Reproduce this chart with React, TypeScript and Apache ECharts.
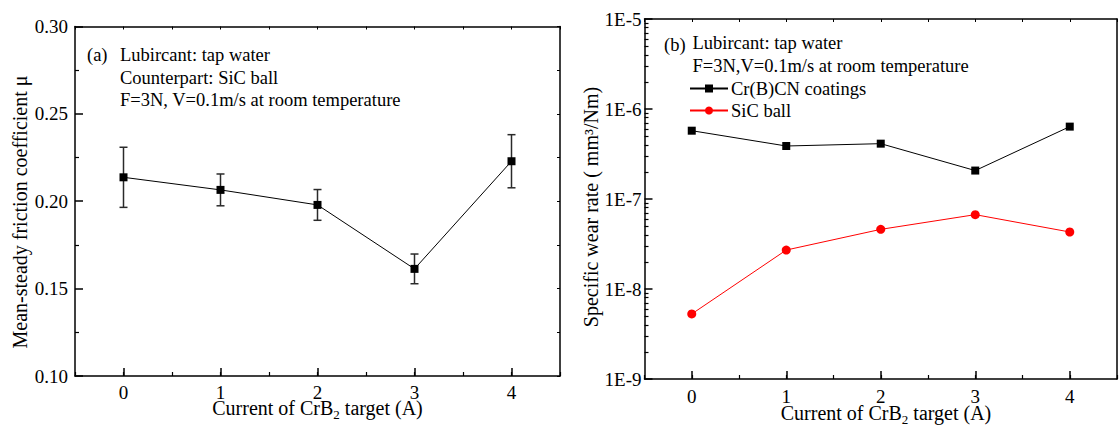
import React, { useEffect, useRef } from "react";
import * as echarts from "echarts";

// ---- data ----
const currents = [0, 1, 2, 3, 4];
const frictionMean = [0.2137, 0.2065, 0.1979, 0.1613, 0.2229];
const frictionErr = [0.0172, 0.0091, 0.0088, 0.0085, 0.0152];
const coatingWear = [5.74e-7, 3.88e-7, 4.12e-7, 2.07e-7, 6.37e-7];
const ballWear = [5.28e-9, 2.71e-8, 4.6e-8, 6.7e-8, 4.3e-8];
const xTickValues = [0, 1, 2, 3, 4];
const seriesNames = ["Cr(B)CN coatings", "SiC ball"];
const annotA = ["Lubircant: tap water", "Counterpart: SiC ball", "F=3N, V=0.1m/s at room temperature"];
const annotB = ["Lubircant: tap water", "F=3N,V=0.1m/s at room temperature"];

const FONT = "Liberation Serif";
const BLACK = "#000";

// minor log tick positions (2..9 per decade) on a log10 helper axis
const logMinor: number[] = [];
for (let d = -9; d < -5; d++) {
  for (let k = 2; k <= 9; k++) logMinor.push(d + Math.log10(k));
}

function baseX(grid: number, extra: any = {}) {
  return {
    gridIndex: grid,
    type: "value",
    min: -0.5,
    max: 4.5,
    interval: 0.5,
    splitLine: { show: false },
    axisLine: { show: false, onZero: false, lineStyle: { color: BLACK, width: 1.5 } },
    axisTick: { show: false },
    axisLabel: { show: false },
    ...extra,
  };
}

export default function App() {
  const ref = useRef<HTMLDivElement>(null);
  useEffect(() => {
    const chart = echarts.init(ref.current!, null, { renderer: "svg" });
    const g0 = { left: 75, top: 26.5, width: 485, height: 349.5 };
    const g1 = { left: 644.5, top: 19, width: 483.5, height: 360 };

    const mainX = (grid: number, margin: number) =>
      baseX(grid, {
        position: "bottom",
        axisLine: { show: true, onZero: false, lineStyle: { color: BLACK, width: 1.5 } },
        axisTick: { show: true, inside: true, length: 8, customValues: xTickValues, lineStyle: { color: BLACK, width: 1.5 } },
        axisLabel: {
          show: true,
          margin,
          fontFamily: FONT,
          fontSize: 19,
          lineHeight: 14,
          color: BLACK,
          formatter: (v: number) => (Number.isInteger(v) ? String(v) : ""),
        },
      });
    const minorX = (grid: number) =>
      baseX(grid, {
        position: "bottom",
        axisTick: { show: true, inside: true, length: 4, lineStyle: { color: BLACK, width: 1.2 } },
      });
    const topX = (grid: number) =>
      baseX(grid, {
        position: "top",
        axisLine: { show: true, onZero: false, lineStyle: { color: BLACK, width: 1.5 } },
        axisTick: { show: true, inside: true, length: 3, lineStyle: { color: BLACK, width: 1 } },
      });

    const textStyle = (size: number) => ({ fontFamily: FONT, fontSize: size, fill: BLACK });
    const xTitle = (x: number, y: number) => ({
      type: "text",
      x,
      y,
      style: {
        text: "Current of CrB{sub|2} target (A)",
        ...textStyle(20),
        lineHeight: 16,
        align: "center",
        verticalAlign: "middle",
        rich: { sub: { fontFamily: FONT, fontSize: 13, lineHeight: 10, verticalAlign: "bottom", padding: [0, 0, -5, 0] } },
      },
    });

    const option: any = {
      animation: false,
      backgroundColor: "#fff",
      textStyle: { fontFamily: FONT },
      grid: [g0, g1],
      xAxis: [mainX(0, 9.5), minorX(0), topX(0), mainX(1, 10.5), minorX(1), topX(1)],
      yAxis: [
        {
          gridIndex: 0,
          type: "value",
          min: 0.1,
          max: 0.3,
          interval: 0.05,
          position: "left",
          splitLine: { show: false },
          axisLine: { show: true, onZero: false, lineStyle: { color: BLACK, width: 1.5 } },
          axisTick: { show: true, inside: true, length: 8, lineStyle: { color: BLACK, width: 1.5 } },
          minorTick: { show: true, splitNumber: 2, length: 4, lineStyle: { color: BLACK, width: 1.2 } },
          axisLabel: {
            margin: 7,
            fontFamily: FONT,
            fontSize: 19,
            color: BLACK,
            formatter: (v: number) => v.toFixed(2),
          },
        },
        {
          gridIndex: 0,
          type: "value",
          min: 0.1,
          max: 0.3,
          interval: 0.025,
          position: "right",
          splitLine: { show: false },
          axisLine: { show: true, onZero: false, lineStyle: { color: BLACK, width: 1.5 } },
          axisTick: { show: true, inside: true, length: 3, lineStyle: { color: BLACK, width: 1 } },
          axisLabel: { show: false },
        },
        {
          gridIndex: 1,
          type: "log",
          logBase: 10,
          min: 1e-9,
          max: 1e-5,
          position: "left",
          splitLine: { show: false },
          axisLine: { show: true, onZero: false, lineStyle: { color: BLACK, width: 1.5 } },
          axisTick: { show: true, inside: true, length: 8, lineStyle: { color: BLACK, width: 1.5 } },
          axisLabel: {
            margin: 3,
            fontFamily: FONT,
            fontSize: 19,
            color: BLACK,
            formatter: (v: number) => "1E" + Math.round(Math.log10(v)),
          },
        },
        {
          gridIndex: 1,
          type: "value",
          min: -9,
          max: -5,
          position: "left",
          splitLine: { show: false },
          axisLine: { show: false, onZero: false },
          axisTick: { show: true, inside: true, length: 4, customValues: logMinor, lineStyle: { color: BLACK, width: 1.2 } },
          axisLabel: { show: false },
        },
        {
          gridIndex: 1,
          type: "log",
          min: 1e-9,
          max: 1e-5,
          position: "right",
          splitLine: { show: false },
          axisLine: { show: true, onZero: false, lineStyle: { color: BLACK, width: 1.5 } },
          axisTick: { show: false },
          axisLabel: { show: false },
        },
      ],
      legend: {
        data: seriesNames,
        orient: "vertical",
        left: 689,
        top: 79,
        itemWidth: 38,
        itemHeight: 10,
        itemGap: 3,
        padding: 0,
        textStyle: { fontFamily: FONT, fontSize: 18.5, color: BLACK, padding: [0, 0, 0, -2] },
      },
      series: [
        {
          type: "custom",
          xAxisIndex: 0,
          yAxisIndex: 0,
          z: 1,
          data: currents.map((x, i) => [x, frictionMean[i] - frictionErr[i], frictionMean[i] + frictionErr[i]]),
          encode: { x: 0, y: [1, 2] },
          renderItem: (params: any, api: any) => {
            const lo = api.coord([api.value(0), api.value(1)]);
            const hi = api.coord([api.value(0), api.value(2)]);
            const w = 4;
            const st = { stroke: "#2a2a2a", lineWidth: 1.5 };
            return {
              type: "group",
              children: [
                { type: "line", shape: { x1: lo[0], y1: lo[1], x2: hi[0], y2: hi[1] }, style: st },
                { type: "line", shape: { x1: lo[0] - w, y1: lo[1], x2: lo[0] + w, y2: lo[1] }, style: st },
                { type: "line", shape: { x1: hi[0] - w, y1: hi[1], x2: hi[0] + w, y2: hi[1] }, style: st },
              ],
            };
          },
        },
        {
          type: "line",
          name: "friction",
          xAxisIndex: 0,
          yAxisIndex: 0,
          z: 3,
          data: currents.map((x, i) => [x, frictionMean[i]]),
          symbol: "rect",
          symbolSize: 8,
          itemStyle: { color: BLACK },
          lineStyle: { color: BLACK, width: 1 },
        },
        {
          type: "line",
          name: seriesNames[0],
          xAxisIndex: 3,
          yAxisIndex: 2,
          z: 3,
          data: currents.map((x, i) => [x, coatingWear[i]]),
          symbol: "rect",
          symbolSize: 8,
          itemStyle: { color: BLACK },
          lineStyle: { color: BLACK, width: 1 },
        },
        {
          type: "line",
          name: seriesNames[1],
          xAxisIndex: 3,
          yAxisIndex: 2,
          z: 3,
          data: currents.map((x, i) => [x, ballWear[i]]),
          symbol: "circle",
          symbolSize: 9,
          itemStyle: { color: "#ff0000" },
          lineStyle: { color: "#ff0000", width: 1 },
        },
      ],
      graphic: [
        {
          type: "text",
          x: 20,
          y: 212,
          rotation: Math.PI / 2,
          style: { text: "Mean-steady friction coefficient μ", ...textStyle(20), align: "center", verticalAlign: "middle" },
        },
        {
          type: "text",
          x: 591,
          y: 207,
          rotation: Math.PI / 2,
          style: { text: "Specific wear rate ( mm³/Nm)", ...textStyle(20), align: "center", verticalAlign: "middle" },
        },
        xTitle(317.5, 408),
        xTitle(886, 413),
        {
          type: "text",
          x: 87,
          y: 55,
          style: { text: "(a)", ...textStyle(18.5), verticalAlign: "middle" },
        },
        ...annotA.map((t, i) => ({
          type: "text",
          x: 120,
          y: 55 + i * 22.5,
          style: { text: t, ...textStyle(18.5), verticalAlign: "middle" },
        })),
        {
          type: "text",
          x: 664,
          y: 45,
          style: { text: "(b)", ...textStyle(18.5), verticalAlign: "middle" },
        },
        ...annotB.map((t, i) => ({
          type: "text",
          x: 692.5,
          y: 43 + i * 22.5,
          style: { text: t, ...textStyle(18.5), verticalAlign: "middle" },
        })),
      ],
    };
    chart.setOption(option);
    return () => chart.dispose();
  }, []);
  return (
    <div
      ref={ref}
      style={{ position: "fixed", left: 0, top: 0, width: 1120, height: 428, background: "#fff" }}
    />
  );
}
